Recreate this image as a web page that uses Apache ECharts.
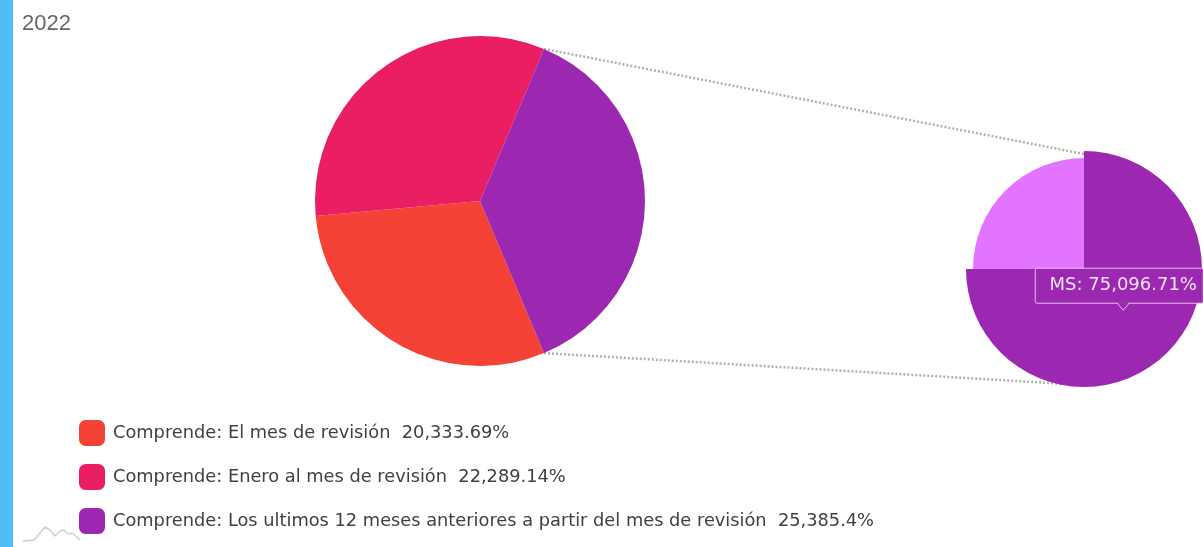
<!DOCTYPE html>
<html><head><meta charset="utf-8">
<script src="https://cdn.jsdelivr.net/npm/echarts@6/dist/echarts.min.js"></script>
<style>html,body{margin:0;padding:0;background:#fff;overflow:hidden}#c{width:1203px;height:547px}</style>
</head><body><div id="c"></div>
<script>
const titleText = '2022';
const mainNames = ['Comprende: El mes de revisión', 'Comprende: Enero al mes de revisión', 'Comprende: Los ultimos 12 meses anteriores a partir del mes de revisión'];
const mainValues = [20333.69, 22289.14, 25385.4];
const mainColors = ['#F44336', '#E91E63', '#9C27B0'];
const detailNames = ['MS', 'Otros'];
const detailValues = [75096.71, 25032.24];
const detailColors = ['#9C27B0', '#E374FF'];

function fmt(v) {
  return v.toLocaleString('en-US', { maximumFractionDigits: 2 });
}

const FONT = '"Liberation Sans", Arial, sans-serif';
const FONT2 = '"DejaVu Sans", sans-serif';
const total = mainValues.reduce((a, b) => a + b, 0);
const expandedDeg = mainValues[2] / total * 360;

const chart = echarts.init(document.getElementById('c'), null, { renderer: 'canvas' });
const legendText = {};
mainNames.forEach((n, i) => legendText[n] = n + '  ' + fmt(mainValues[i]) + '%');

chart.setOption({
  animation: false,
  title: {
    text: titleText, left: 22, top: 13, padding: 0,
    textStyle: { fontFamily: FONT, fontSize: 22, fontWeight: 'normal', color: '#666' }
  },
  legend: {
    orient: 'vertical', left: 79, top: 420, padding: 0, itemWidth: 26, itemHeight: 26, itemGap: 18,
    icon: 'roundRect', selectedMode: false,
    data: mainNames,
    formatter: n => legendText[n],
    textStyle: { fontFamily: FONT2, fontSize: 17.8, color: '#404040', padding: [0, 0, 0, 3] }
  },
  series: [
    {
      type: 'pie', center: [480, 201], radius: 165, startAngle: -expandedDeg / 2,
      silent: true, label: { show: false }, labelLine: { show: false },
      itemStyle: { borderWidth: 0 },
      emphasis: { disabled: true },
      data: mainNames.map((n, i) => ({ name: n, value: mainValues[i], itemStyle: { color: mainColors[i] } }))
    },
    {
      type: 'pie', center: [1084, 269], radius: 111, startAngle: 90,
      label: { show: false }, labelLine: { show: false },
      itemStyle: { borderWidth: 0 },
      emphasis: { scale: true, scaleSize: 7, focus: 'none', itemStyle: { shadowBlur: 0 } },
      data: detailNames.map((n, i) => ({
        name: n, value: detailValues[i],
        itemStyle: { color: detailColors[i] },
        emphasis: { itemStyle: { color: detailColors[i] } }
      }))
    }
  ]
});

chart.dispatchAction({ type: 'highlight', seriesIndex: 1, dataIndex: 0 });

// connecting lines and tooltip annotation from the library's pie layout
const model = chart.getModel();
const mainLayout = model.getSeriesByIndex(0).getData().getItemLayout(2);
const detLayout = model.getSeriesByIndex(1).getData().getItemLayout(0);
const p = (L, a, r) => [L.cx + r * Math.cos(a), L.cy + r * Math.sin(a)];
const a1 = p(mainLayout, mainLayout.startAngle, mainLayout.r);
const a2 = p(mainLayout, mainLayout.endAngle, mainLayout.r);
const pts = [a1, a2].sort((u, v) => u[1] - v[1]);
const topEnd = [detLayout.cx, detLayout.cy - detLayout.r - 4];
const botEnd = [detLayout.cx, detLayout.cy + detLayout.r + 5];
const midA = (detLayout.startAngle + detLayout.endAngle) / 2;
const tip = p(detLayout, midA, detLayout.r / 2);
const tipText = detailNames[0] + ': ' + fmt(detailValues[0]) + '%';
const boxW = 168, boxH = 35, arrH = 7, arrW = 6;
const bx = tip[0] - 4 - boxW / 2, by = tip[1] - arrH - boxH + 2;
const lineStyle = { stroke: '#b0b0b0', lineWidth: 2.5, lineDash: [2, 2] };

chart.setOption({
  graphic: [
    { type: 'rect', shape: { x: 0, y: 0, width: 13, height: 547 }, style: { fill: '#4FBDF7' }, z: 10, silent: true },
    { type: 'line', shape: { x1: pts[0][0], y1: pts[0][1], x2: topEnd[0], y2: topEnd[1] }, style: lineStyle, z: -1, silent: true },
    { type: 'line', shape: { x1: pts[1][0], y1: pts[1][1], x2: botEnd[0], y2: botEnd[1] }, style: lineStyle, z: -1, silent: true },
    { type: 'polyline', shape: { points: [[23,541],[34,540],[40,533],[45,527],[50,530],[55,536],[60,531],[64,530],[68,534],[72,533],[80,540]] },
      style: { stroke: '#cfcfcf', lineWidth: 1.5, fill: null }, z: -1, silent: true },
    { type: 'rect', shape: { x: bx, y: by, width: boxW, height: boxH, r: 2 },
      style: { fill: '#9C27B0', stroke: 'rgba(240,215,245,0.85)', lineWidth: 1 }, z: 100, silent: true },
    { type: 'polygon', shape: { points: [[tip[0] - arrW, by + boxH - 1], [tip[0] + arrW, by + boxH - 1], [tip[0], by + boxH + arrH]] },
      style: { fill: '#9C27B0' }, z: 101, silent: true },
    { type: 'polyline', shape: { points: [[tip[0] - arrW, by + boxH], [tip[0], by + boxH + arrH], [tip[0] + arrW, by + boxH]] },
      style: { stroke: 'rgba(240,215,245,0.85)', lineWidth: 1, fill: null }, z: 102, silent: true },
    { type: 'text', x: bx + boxW / 2 + 4, y: by + boxH / 2, z: 103, silent: true,
      style: { text: tipText, fill: '#F3E5F5', font: '18px ' + FONT2, align: 'center', verticalAlign: 'middle' } }
  ]
});
</script>
</body></html>
